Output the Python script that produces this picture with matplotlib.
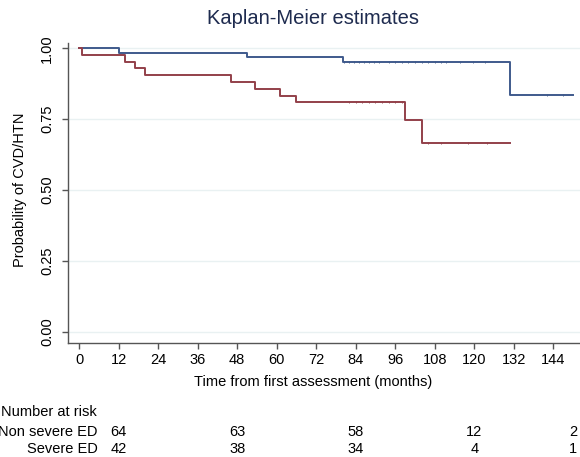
import matplotlib
matplotlib.use("Agg")
import matplotlib.pyplot as plt
import numpy as np

plt.rcParams['font.family'] = ['Liberation Sans', 'DejaVu Sans']

# Step-function data (time in months, survival)
blue_t = [0, 12, 51, 80, 131, 150]
blue_s = [1.0, 0.984, 0.969, 0.953, 0.834, 0.834]
red_t = [0, 1, 14, 17, 20, 46, 53.5, 61, 66, 99, 104, 131]
red_s = [1.0, 0.976, 0.952, 0.929, 0.905, 0.881, 0.857, 0.833, 0.81, 0.747, 0.665, 0.665]

blue_cens = [80.5, 82, 83.5, 85, 86.5, 88, 89.5, 91, 94, 96, 98, 100, 102, 104, 106, 108, 110, 111.5, 115.7, 119.6, 123.3, 142, 147]
red_cens = [82, 84, 86, 88, 90, 92, 94, 96, 98, 106, 110, 118, 124]

xticks = list(range(0, 145, 12))
yticks = [0.0, 0.25, 0.50, 0.75, 1.00]
risk_times = [12, 48, 84, 120, 150]
risk_nonsevere = [64, 63, 58, 12, 2]
risk_severe = [42, 38, 34, 4, 1]
groups = ["Non severe ED", "Severe ED"]

blue = "#3f5a8c"
red = "#93404a"

fig = plt.figure(figsize=(5.8, 4.57), dpi=100)
ax = fig.add_axes([68/580, (457-343.3)/457, 1 - 68/580, (343.3-42.6)/457])

ax.set_xlim(-3.34, 152.1)
ax.set_ylim(-0.041, 1.02)

for y in yticks:
    ax.axhline(y, color="#e9f1f2", lw=1.0, zorder=0)

ax.step(blue_t, blue_s, where="post", color=blue, lw=1.4, zorder=3)
ax.step(red_t, red_s, where="post", color=red, lw=1.4, zorder=3)

def surv_at(t, ts, ss):
    idx = np.searchsorted(ts, t, side="right") - 1
    return ss[idx]

ax.plot(blue_cens, [surv_at(t, blue_t, blue_s) for t in blue_cens], ls="none",
        marker="|", ms=2, mew=0.6, color=blue, zorder=4)
ax.plot(red_cens, [surv_at(t, red_t, red_s) for t in red_cens], ls="none",
        marker="|", ms=2, mew=0.6, color=red, zorder=4)

ax.set_xticks(xticks)
ax.set_yticks(yticks)
ax.set_yticklabels(["%.2f" % v for v in yticks], rotation=90, va="center")
ax.tick_params(axis="both", direction="out", length=4, width=1, color="#555555",
               labelsize=10.5, labelcolor="black")
ax.tick_params(axis="x", pad=3)
ax.tick_params(axis="y", pad=6)

for s in ["top", "right"]:
    ax.spines[s].set_visible(False)
for s in ["left", "bottom"]:
    ax.spines[s].set_color("#555555")
    ax.spines[s].set_linewidth(1.0)

fig.text(313/580, 1 - 18/457, "Kaplan-Meier estimates", ha="center", va="center",
         fontsize=14.5, color="#1e2b4f")
fig.text(20/580, 1 - 190/457, "Probability of CVD/HTN", rotation=90, ha="center",
         va="center", fontsize=10.5)
fig.text(313/580, 1 - 382/457, "Time from first assessment (months)", ha="center",
         va="center", fontsize=10.5)

# Number at risk table
fig.text(1/580, 1 - 412/457, "Number at risk", ha="left", va="center", fontsize=10.5)
row_y = [1 - 432/457, 1 - 449/457]
for gy, gname, vals in zip(row_y, groups, [risk_nonsevere, risk_severe]):
    fig.text(98/580, gy, gname, ha="right", va="center", fontsize=10.5)
    for t, v in zip(risk_times, vals):
        xf = ax.transData.transform((t, 0))[0] / fig.bbox.width
        fig.text(xf, gy, str(v), ha="center", va="center", fontsize=10.5)

fig.savefig("out.png", dpi=100)
